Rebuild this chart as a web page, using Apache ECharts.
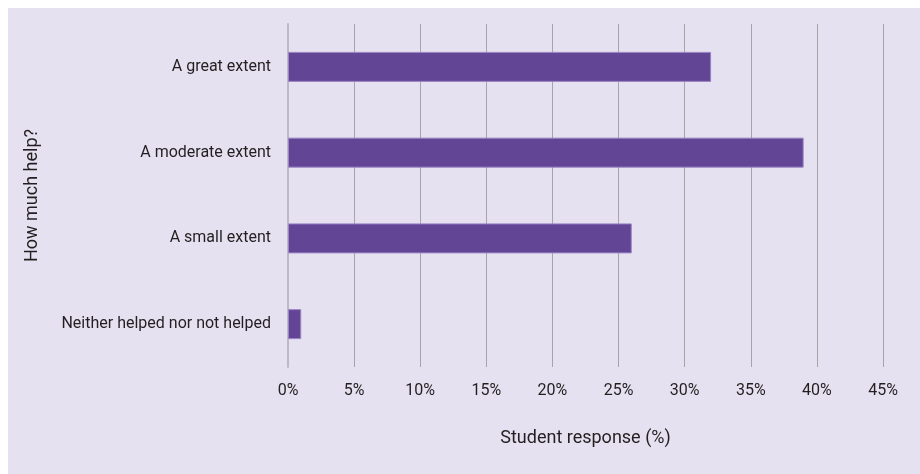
<!DOCTYPE html>
<html><head><meta charset="utf-8">
<script src="https://cdn.jsdelivr.net/npm/echarts@6/dist/echarts.min.js"></script>
<style>html,body{margin:0;padding:0;background:#fff;}#c{position:absolute;left:8px;top:8px;width:912px;height:466px;background:#e5e1f0;}</style>
</head><body><div id="c"></div>
<script>
const categories = ["A great extent", "A moderate extent", "A small extent", "Neither helped nor not helped"];
const values = [32, 39, 26, 1];
const tickValues = [0, 5, 10, 15, 20, 25, 30, 35, 40, 45];
const xName = "Student response (%)";
const yName = "How much help?";

const chart = echarts.init(document.getElementById('c'), null, {renderer: 'canvas'});
const font = 'Roboto';
chart.setOption({
  backgroundColor: '#e5e1f0',
  animation: false,
  grid: {left: 280, right: 37, top: 16, bottom: 107},
  xAxis: {
    type: 'value', min: 0, max: 45, interval: 5,
    name: xName, nameLocation: 'middle', nameGap: 62,
    nameTextStyle: {fontFamily: font, fontSize: 18, color: '#231f20'},
    axisLine: {show: false}, axisTick: {show: false},
    axisLabel: {formatter: v => v + '%', fontFamily: font, fontSize: 16, color: '#231f20', margin: 16},
    splitLine: {show: true, lineStyle: {color: '#a5a4a8', width: 1}}
  },
  yAxis: {
    type: 'category', data: categories, inverse: true,
    name: yName, nameLocation: 'middle', nameGap: 247, nameRotate: 90,
    nameTextStyle: {fontFamily: font, fontSize: 18, color: '#231f20'},
    axisLine: {show: true, lineStyle: {color: '#bdb9c4', width: 2}},
    axisTick: {show: false},
    axisLabel: {fontFamily: font, fontSize: 16, color: '#231f20', margin: 17}
  },
  series: [{
    type: 'bar', data: values, barWidth: 30,
    itemStyle: {color: '#634596', borderColor: '#9a86c4', borderWidth: 1}
  }]
});
</script></body></html>
